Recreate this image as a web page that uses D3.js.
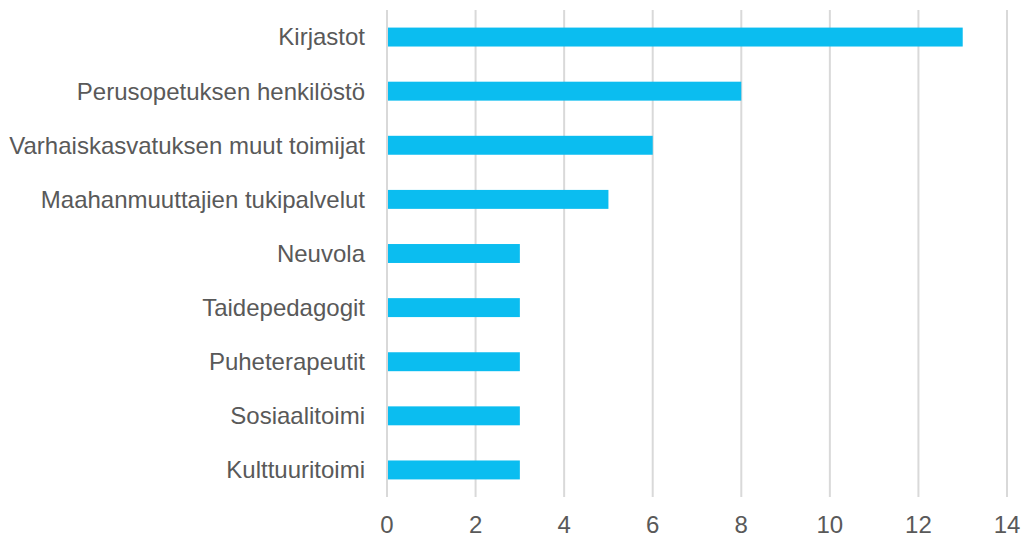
<!DOCTYPE html>
<html>
<head>
<meta charset="utf-8">
<script src="https://cdn.jsdelivr.net/npm/d3@7"></script>
<style>
  body { margin: 0; background: #fff; }
  text { font-family: "Liberation Sans", Arial, sans-serif; fill: #595959; }
</style>
</head>
<body>
<svg id="chart" width="1022" height="539"></svg>
<script>
// data
const categories = [
  'Kirjastot',
  'Perusopetuksen henkilöstö',
  'Varhaiskasvatuksen muut toimijat',
  'Maahanmuuttajien tukipalvelut',
  'Neuvola',
  'Taidepedagogit',
  'Puheterapeutit',
  'Sosiaalitoimi',
  'Kulttuuritoimi'
];
const values = [13, 8, 6, 5, 3, 3, 3, 3, 3];
const xTicks = [0, 2, 4, 6, 8, 10, 12, 14];

const svg = d3.select('#chart');
const margin = { top: 10, right: 15, bottom: 42, left: 387 };
const width = 1022 - margin.left - margin.right;
const height = 539 - margin.top - margin.bottom;

const g = svg.append('g')
  .attr('transform', 'translate(' + margin.left + ',' + margin.top + ')');

const x = d3.scaleLinear().domain([0, 14]).range([0, width]);
const y = d3.scaleBand().domain(categories).range([0, height]).paddingInner(0.65).paddingOuter(0.325);

// gridlines
g.selectAll('line.grid')
  .data(xTicks)
  .enter().append('line')
  .attr('class', 'grid')
  .attr('x1', d => x(d)).attr('x2', d => x(d))
  .attr('y1', 0).attr('y2', height)
  .attr('stroke', '#d9d9d9')
  .attr('stroke-width', 2);

// bars
g.selectAll('rect.bar')
  .data(values)
  .enter().append('rect')
  .attr('class', 'bar')
  .attr('x', x(0) + 1)
  .attr('y', (d, i) => y(categories[i]))
  .attr('width', d => x(d) - x(0) - 1)
  .attr('height', y.bandwidth())
  .attr('fill', '#0bbdf0');

// category labels
g.selectAll('text.cat')
  .data(categories)
  .enter().append('text')
  .attr('class', 'cat')
  .attr('x', -22)
  .attr('y', d => y(d) + y.bandwidth() / 2)
  .attr('dy', '0.35em')
  .attr('text-anchor', 'end')
  .style('font-size', '24px')
  .text(d => d);

// x tick labels
g.selectAll('text.tick')
  .data(xTicks)
  .enter().append('text')
  .attr('class', 'tick')
  .attr('x', d => x(d))
  .attr('y', height + 36)
  .attr('text-anchor', 'middle')
  .style('font-size', '24px')
  .text(d => d);
</script>
</body>
</html>
